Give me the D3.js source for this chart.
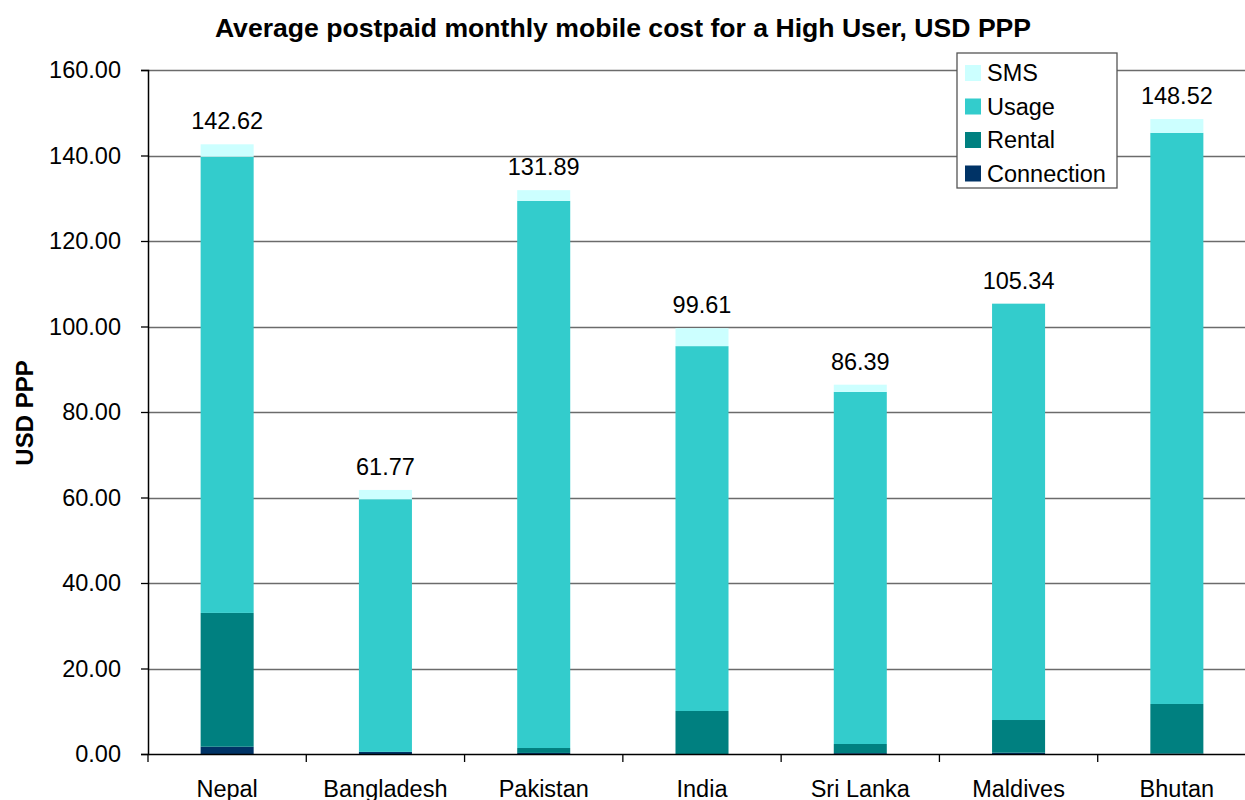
<!DOCTYPE html>
<html>
<head>
<meta charset="utf-8">
<script src="https://cdn.jsdelivr.net/npm/d3@7"></script>
<style>
  body { margin: 0; background: #fff; }
  svg { display: block; font-family: Arial, "Liberation Sans", sans-serif; }
</style>
</head>
<body>
<div class="canva"></div>
<script>
// data
const countries = ["Nepal", "Bangladesh", "Pakistan", "India", "Sri Lanka", "Maldives", "Bhutan"];
const seriesNames = ["Connection", "Rental", "Usage", "SMS"];
const connection = [1.7, 0.5, 0.25, 0.0, 0.2, 0.3, 0.1];
const rental     = [31.3, 0.0, 1.15, 10.06, 2.14, 7.65, 11.6];
const usage      = [106.7, 59.1, 128.0, 85.35, 82.36, 97.39, 133.6];
const sms        = [2.92, 2.17, 2.49, 4.2, 1.69, 0.0, 3.22];
const totals     = [142.62, 61.77, 131.89, 99.61, 86.39, 105.34, 148.52];
const yTicks = [0, 20, 40, 60, 80, 100, 120, 140, 160];
const colors = { Connection: "#003366", Rental: "#008080", Usage: "#33cccc", SMS: "#ccffff" };

var width = 1245, height = 800;
var margin = { top: 70, right: -11, bottom: 46, left: 148 };
var fs = 23.5;

const rows = countries.map((c, i) => ({
    country: c,
    Connection: connection[i],
    Rental: rental[i],
    Usage: usage[i],
    SMS: sms[i],
    total: totals[i]
}));

const svg = d3.select(".canva").append("svg")
    .attr("width", width)
    .attr("height", height)
    .attr("viewBox", [0, 0, width, height]);

const x = d3.scaleBand(countries, [margin.left, width - margin.right]).padding(0);
const y = d3.scaleLinear([0, 160], [height - margin.bottom, margin.top]);
const barW = x.bandwidth() * 0.335;

// gridlines
svg.append("g")
    .selectAll("line")
    .data(yTicks.slice(1))
    .join("line")
    .attr("x1", margin.left)
    .attr("x2", width)
    .attr("y1", d => Math.round(y(d)) + 0.5)
    .attr("y2", d => Math.round(y(d)) + 0.5)
    .attr("stroke", "#6b6b6b")
    .attr("stroke-width", 1.3);

// stacked bars
const stack = d3.stack().keys(seriesNames)(rows);
svg.append("g")
    .selectAll("g")
    .data(stack)
    .join("g")
    .attr("fill", d => colors[d.key])
    .selectAll("rect")
    .data(d => d)
    .join("rect")
    .attr("x", d => x(d.data.country) + (x.bandwidth() - barW) / 2)
    .attr("width", barW)
    .attr("y", d => y(d[1]))
    .attr("height", d => y(d[0]) - y(d[1]));

// total labels
svg.append("g")
    .selectAll("text")
    .data(rows)
    .join("text")
    .attr("x", d => x(d.country) + x.bandwidth() / 2)
    .attr("y", d => y(d.total) - 15)
    .attr("text-anchor", "middle")
    .attr("font-size", fs)
    .attr("fill", "#000")
    .text(d => d.total.toFixed(2));

// y axis
svg.append("g")
    .attr("transform", `translate(${margin.left}, 0)`)
    .call(d3.axisLeft(y).tickValues(yTicks).tickFormat(d3.format(".2f")).tickSize(7).tickPadding(20))
    .call(g => g.select(".domain").attr("stroke", "#000").attr("stroke-width", 1.5))
    .call(g => g.selectAll(".tick line").attr("stroke", "#000").attr("stroke-width", 1.3))
    .call(g => g.selectAll(".tick text")
        .attr("font-size", fs)
        .attr("fill", "#000")
        .attr("font-family", "Arial, 'Liberation Sans', sans-serif"));

// x axis
svg.append("g")
    .attr("transform", `translate(0, ${height - margin.bottom})`)
    .call(d3.axisBottom(x).tickSize(0).tickPadding(26).tickSizeOuter(0))
    .call(g => g.select(".domain").attr("stroke", "#000").attr("stroke-width", 1.5))
    .call(g => g.selectAll(".tick text")
        .attr("font-size", fs)
        .attr("fill", "#000")
        .attr("font-family", "Arial, 'Liberation Sans', sans-serif"))
    .call(g => g.selectAll(".sep")
        .data(countries)
        .join("line")
        .attr("class", "sep")
        .attr("x1", d => x(d))
        .attr("x2", d => x(d))
        .attr("y1", 0)
        .attr("y2", 8)
        .attr("stroke", "#000")
        .attr("stroke-width", 1.3));

// title
svg.append("text")
    .attr("x", 623)
    .attr("y", 37)
    .attr("text-anchor", "middle")
    .attr("font-size", 26.6)
    .attr("font-weight", "bold")
    .text("Average postpaid monthly mobile cost for a High User, USD PPP");

// y title
svg.append("text")
    .attr("transform", `translate(33, 413) rotate(-90)`)
    .attr("text-anchor", "middle")
    .attr("font-size", 24)
    .attr("font-weight", "bold")
    .text("USD PPP");

// legend
const legend = svg.append("g").attr("transform", "translate(957, 53)");
legend.append("rect")
    .attr("width", 160)
    .attr("height", 135)
    .attr("fill", "#fff")
    .attr("stroke", "#555")
    .attr("stroke-width", 1.3);
const items = legend.selectAll("g")
    .data(seriesNames.slice().reverse())
    .join("g")
    .attr("transform", (d, i) => `translate(8, ${20 + i * 33.5})`);
items.append("rect")
    .attr("y", -8)
    .attr("width", 16)
    .attr("height", 16)
    .attr("fill", d => colors[d]);
items.append("text")
    .attr("x", 22)
    .attr("y", 8)
    .attr("font-size", fs)
    .text(d => d);
</script>
</body>
</html>
